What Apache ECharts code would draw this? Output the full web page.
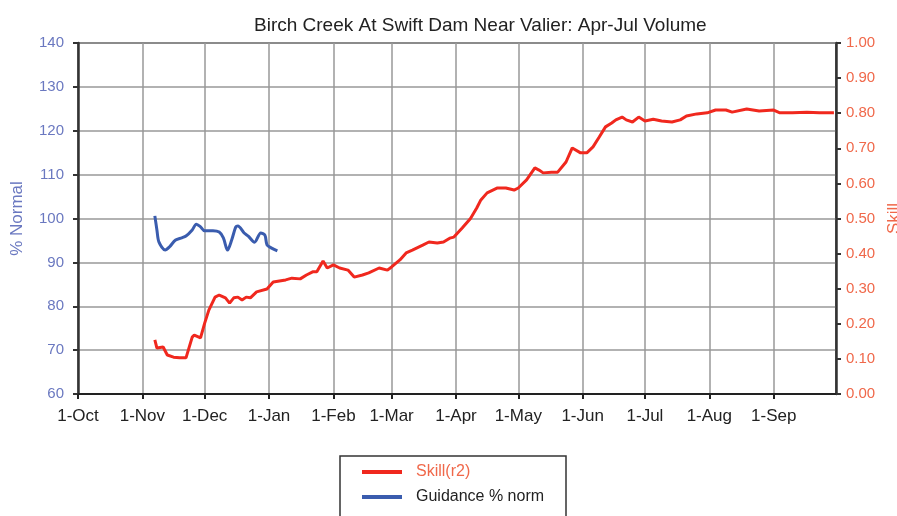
<!DOCTYPE html>
<html>
<head>
<meta charset="utf-8">
<script src="https://cdn.jsdelivr.net/npm/echarts@6/dist/echarts.min.js"></script>
<style>
  html, body { margin: 0; padding: 0; background: #fff; }
  #chart { width: 897px; height: 516px; }
</style>
</head>
<body>
<div id="chart"></div>
<script>
// water year, 1-Oct .. 1-Oct (366 points, day index from 1-Oct)
var monthNames = ['Jan', 'Feb', 'Mar', 'Apr', 'May', 'Jun', 'Jul', 'Aug', 'Sep', 'Oct', 'Nov', 'Dec']
var dayLabels = []
for (var i = 0; i <= 365; i++) {
  var d = new Date(Date.UTC(2001, 9, 1 + i))
  dayLabels.push(d.getUTCDate() + '-' + monthNames[d.getUTCMonth()])
}

// Skill(r2) - right axis
var skillDays = [37, 38, 41, 43, 46, 49, 52, 55, 56, 59, 61, 63, 66, 68, 71, 73, 75, 77, 79, 81, 83, 86, 91, 94, 97, 100, 103, 107, 110, 113, 115, 118, 120, 123, 126, 130, 133, 137, 140, 145, 149, 151, 155, 158, 161, 166, 169, 173, 176, 179, 181, 185, 189, 192, 194, 197, 202, 206, 210, 212, 216, 220, 222, 224, 228, 231, 235, 238, 242, 245, 248, 251, 254, 257, 259, 262, 264, 267, 270, 273, 277, 281, 286, 290, 293, 298, 303, 307, 312, 315, 322, 328, 335, 338, 344, 351, 357, 364]
var skillValues = [0.154, 0.131, 0.134, 0.111, 0.105, 0.103, 0.103, 0.162, 0.168, 0.160, 0.202, 0.239, 0.276, 0.282, 0.274, 0.259, 0.274, 0.276, 0.268, 0.276, 0.274, 0.291, 0.299, 0.319, 0.322, 0.325, 0.330, 0.328, 0.339, 0.348, 0.348, 0.379, 0.359, 0.368, 0.359, 0.353, 0.333, 0.339, 0.345, 0.359, 0.353, 0.362, 0.382, 0.402, 0.410, 0.424, 0.433, 0.430, 0.433, 0.444, 0.447, 0.473, 0.500, 0.530, 0.553, 0.573, 0.587, 0.587, 0.581, 0.587, 0.610, 0.644, 0.638, 0.630, 0.632, 0.632, 0.661, 0.701, 0.687, 0.687, 0.704, 0.732, 0.761, 0.772, 0.781, 0.789, 0.781, 0.775, 0.789, 0.778, 0.783, 0.778, 0.775, 0.781, 0.792, 0.798, 0.801, 0.809, 0.809, 0.803, 0.812, 0.806, 0.809, 0.801, 0.801, 0.803, 0.801, 0.801]

// Guidance % norm - left axis
var guideDays = [37, 38, 39, 42, 44, 47, 50, 52, 55, 57, 59, 61, 65, 68, 70, 72, 74, 76, 77, 80, 82, 85, 88, 90, 91, 93, 96]
var guideValues = [100.6, 97.4, 94.6, 92.8, 93.5, 95.1, 95.6, 96.0, 97.4, 98.7, 98.1, 97.2, 97.2, 96.9, 95.6, 92.8, 95.1, 98.1, 98.3, 96.7, 96.0, 94.6, 96.7, 96.2, 94.0, 93.3, 92.6]

function pairs (xs, ys) {
  return xs.map(function (x, k) { return [x, ys[k]] })
}
function isMonthStart (idx) {
  return idx < 365 && dayLabels[idx].indexOf('1-') === 0
}

var chart = echarts.init(document.getElementById('chart'))
var font = 'Liberation Sans, Arial, sans-serif'
var option = {
  animation: false,
  title: {
    text: 'Birch Creek At Swift Dam Near Valier: Apr-Jul Volume',
    left: 249,
    top: 11,
    textStyle: { fontFamily: font, fontSize: 19, fontWeight: 'normal', color: '#222' }
  },
  grid: {
    left: 78, right: 61, top: 43, bottom: 122,
    outerBoundsMode: 'none',
    show: true, borderColor: '#333', borderWidth: 1.5
  },
  // legend frame runs off the bottom edge like in the original
  graphic: [{
    type: 'rect',
    shape: { x: 340, y: 456, width: 226, height: 90 },
    style: { fill: 'none', stroke: '#333', lineWidth: 1.5 }
  }],
  legend: {
    orient: 'vertical',
    left: 362,
    top: 464,
    padding: 0,
    itemGap: 9,
    itemWidth: 40,
    itemHeight: 4,
    icon: 'rect',
    textStyle: { fontFamily: font, fontSize: 16, lineHeight: 16, padding: [0, 0, 0, 9] },
    data: [
      { name: 'Skill(r2)', textStyle: { color: '#f0684a' } },
      { name: 'Guidance % norm', textStyle: { color: '#222' } }
    ]
  },
  xAxis: {
    type: 'category',
    data: dayLabels,
    boundaryGap: false,
    axisLine: { lineStyle: { color: '#222', width: 2 } },
    axisTick: { interval: function (idx) { return isMonthStart(idx) }, length: 5, lineStyle: { color: '#222', width: 2 } },
    axisLabel: {
      interval: function (idx) { return isMonthStart(idx) },
      color: '#222', fontFamily: font, fontSize: 17, margin: 14
    },
    splitLine: { show: true, interval: function (idx) { return isMonthStart(idx) }, lineStyle: { color: '#999', width: 1.5 } }
  },
  yAxis: [
    {
      type: 'value',
      min: 60, max: 140, interval: 10,
      name: '% Normal',
      nameLocation: 'middle',
      nameGap: 52,
      nameTextStyle: { color: '#6a78c0', fontFamily: font, fontSize: 17 },
      axisLine: { show: true, lineStyle: { color: '#333', width: 2.5 } },
      axisTick: { show: true, length: 5, lineStyle: { color: '#333', width: 2 } },
      axisLabel: { color: '#6a78c0', fontFamily: font, fontSize: 15, margin: 14 },
      splitLine: { show: true, lineStyle: { color: '#999', width: 1.5 } }
    },
    {
      type: 'value',
      min: 0, max: 1, interval: 0.1,
      name: 'Skill',
      nameLocation: 'middle',
      nameGap: 49,
      nameTextStyle: { color: '#f0684a', fontFamily: font, fontSize: 17 },
      axisLine: { show: true, lineStyle: { color: '#333', width: 2.5 } },
      axisTick: { show: true, length: 5, lineStyle: { color: '#333', width: 2 } },
      axisLabel: { color: '#f0684a', fontFamily: font, fontSize: 15, margin: 10, formatter: function (v) { return v.toFixed(2) } },
      splitLine: { show: false }
    }
  ],
  series: [
    {
      name: 'Skill(r2)',
      type: 'line',
      yAxisIndex: 1,
      data: pairs(skillDays, skillValues),
      showSymbol: false,
      color: '#f0281e',
      lineStyle: { color: '#f0281e', width: 3 }
    },
    {
      name: 'Guidance % norm',
      type: 'line',
      yAxisIndex: 0,
      data: pairs(guideDays, guideValues),
      showSymbol: false,
      smooth: 0.3,
      color: '#3a5cae',
      lineStyle: { color: '#3a5cae', width: 3 }
    }
  ]
}
chart.setOption(option, true)
</script>
</body>
</html>
